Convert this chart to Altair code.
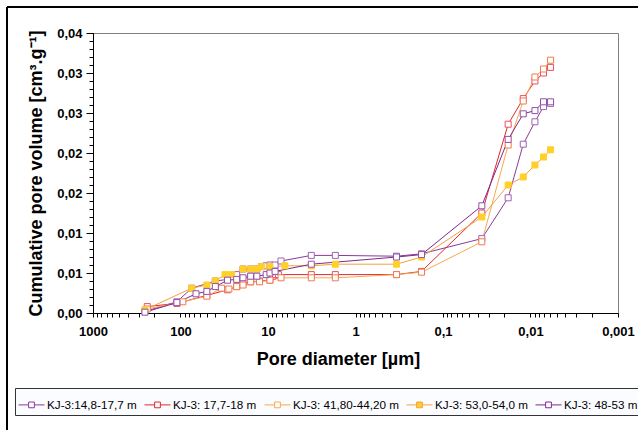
import altair as alt
import pandas as pd

# ---------------- data ----------------
series_names = [
    "KJ-3:14,8-17,7 m",
    "KJ-3: 17,7-18 m",
    "KJ-3: 41,80-44,20 m",
    "KJ-3: 53,0-54,0 m",
    "KJ-3: 48-53 m",
]
line_colors = ["#8B3A98", "#E3262E", "#F8A94E", "#F5A03C", "#7A2A8C"]
marker_strokes = ["#A062B4", "#EE4E5E", "#F27A4E", "#FFCF2A", "#9050AA"]
marker_fills = ["#FFFFFF", "#FFFFFF", "#FFFFFF", "#FFCF2A", "#FFFFFF"]

# pore diameter [um] and cumulative pore volume [cm3/g]
d_s1 = [255, 110, 74.5, 40, 29, 22.8, 19.3, 15.8, 13.4, 11.8, 10.5, 9.5, 8.3, 7.1, 3.2, 1.7, 0.34, 0.176, 0.036, 0.018, 0.0121, 0.0089, 0.0071, 0.0059]
v_s1 = [0.0002, 0.0014, 0.0031, 0.0040, 0.0042, 0.0048, 0.0055, 0.0055, 0.0055, 0.0058, 0.0059, 0.0060, 0.0060, 0.0065, 0.0072, 0.0072, 0.0071, 0.0074, 0.0093, 0.0144, 0.0211, 0.0239, 0.0258, 0.0262]

d_s2 = [240, 110, 50, 29, 22.8, 19.3, 15.8, 12.5, 9.5, 8.8, 8.2, 7.6, 3.2, 1.7, 0.34, 0.176, 0.036, 0.018, 0.0121, 0.0089, 0.0071, 0.0059]
v_s2 = [0.0008, 0.0012, 0.0022, 0.0029, 0.0033, 0.0037, 0.0039, 0.0040, 0.0041, 0.0046, 0.0048, 0.0048, 0.0048, 0.0048, 0.0048, 0.0052, 0.0125, 0.0236, 0.0268, 0.0290, 0.0300, 0.0307]

d_s3 = [240, 94, 50, 34, 28, 22.8, 19.3, 15.8, 12.5, 9.5, 7.1, 3.2, 1.7, 0.34, 0.176, 0.036, 0.018, 0.0121, 0.0089, 0.0071, 0.0059]
v_s3 = [0.0005, 0.0014, 0.0021, 0.0031, 0.0030, 0.0033, 0.0035, 0.0039, 0.0039, 0.0041, 0.0044, 0.0044, 0.0044, 0.0048, 0.0051, 0.0089, 0.0210, 0.0265, 0.0295, 0.0305, 0.0316]

d_s4 = [255, 74.5, 50, 40, 31, 26, 19.3, 15.8, 13.4, 11.8, 9.5, 6.4, 3.2, 1.7, 0.34, 0.176, 0.036, 0.018, 0.0121, 0.0089, 0.0071, 0.0059]
v_s4 = [0.0004, 0.0031, 0.0035, 0.0040, 0.0048, 0.0048, 0.0055, 0.0055, 0.0055, 0.0058, 0.0058, 0.0059, 0.0059, 0.0061, 0.0061, 0.0070, 0.0120, 0.0160, 0.0170, 0.0185, 0.0195, 0.0204]

d_s5 = [255, 110, 66.5, 50, 40, 29, 22.8, 19.3, 15.8, 13.4, 10.5, 9.5, 8.3, 3.2, 0.34, 0.176, 0.036, 0.018, 0.0121, 0.0089, 0.0071, 0.0059]
v_s5 = [0.0001, 0.0013, 0.0024, 0.0027, 0.0033, 0.0041, 0.0042, 0.0044, 0.0046, 0.0046, 0.0048, 0.0050, 0.0052, 0.0061, 0.0070, 0.0073, 0.0134, 0.0217, 0.0249, 0.0253, 0.0264, 0.0264]

x_tick_values = [k * 10.0 ** e for e in range(-3, 3) for k in range(1, 10)] + [1000.0]
y_major_values = [0.0, 0.005, 0.01, 0.015, 0.02, 0.025, 0.03, 0.035]
y_minor_values = [i / 1000 for i in range(0, 36)]

# ---------------- table ----------------
rows = []
for name, ds, vs in zip(series_names, [d_s1, d_s2, d_s3, d_s4, d_s5], [v_s1, v_s2, v_s3, v_s4, v_s5]):
    for i, (d, v) in enumerate(zip(ds, vs)):
        rows.append({"series": name, "diameter": d, "volume": v, "order": i})
df = pd.DataFrame(rows)

FONT = "Liberation Sans"
decade_test = "abs(log(datum.value)/LN10 - round(log(datum.value)/LN10)) < 0.001"

x_enc = alt.X(
    "diameter:Q",
    scale=alt.Scale(type="log", domain=[0.001, 1000], reverse=True),
    axis=alt.Axis(
        title="Pore diameter [µm]",
        values=x_tick_values,
        labelExpr=f"{decade_test} ? replace(format(datum.value, '~g'), '.', ',') : ''",
        labelOverlap=False,
        labelFlush=False,
        tickSize=4,
        labelPadding=8,
        labelFont=FONT,
        labelFontSize=13,
        labelFontWeight="bold",
        labelColor="#000",
        titleFont=FONT,
        titleFontSize=18,
        titleFontWeight="bold",
        titleColor="#000",
        titleX=245,
        titleY=46,
        titleBaseline="middle",
        titleAlign="center",
        grid=False,
        domainColor="#000",
        tickColor="#000",
    ),
)

y_major = alt.Y(
    "volume:Q",
    scale=alt.Scale(domain=[0, 0.035], nice=False, zero=True),
    axis=alt.Axis(
        orient="left",
        title="Cumulative pore volume [cm³.g⁻¹]",
        values=y_major_values,
        labelExpr="replace(format(datum.value + 0.0000001, '.2f'), '.', ',')",
        labelOverlap=False,
        labelFlush=False,
        tickSize=7,
        labelPadding=4,
        labelFont=FONT,
        labelFontSize=13,
        labelFontWeight="bold",
        labelColor="#000",
        titleFont=FONT,
        titleFontSize=18,
        titleFontWeight="bold",
        titleColor="#000",
        titleX=-57,
        titleY=140,
        titleBaseline="middle",
        titleAlign="center",
        grid=False,
        domainColor="#000",
        tickColor="#000",
    ),
)

y_minor = alt.Y(
    "volume:Q",
    axis=alt.Axis(
        orient="left",
        title=None,
        values=y_minor_values,
        labels=False,
        tickSize=4,
        grid=False,
        domainColor="#000",
        tickColor="#000",
    ),
)

legend = alt.Legend(
    title=None,
    orient="none",
    legendX=-78,
    legendY=355,
    direction="horizontal",
    columns=5,
    symbolType="M-1,0H-0.22M0.22,0H1M-0.22,-0.22H0.22V0.22H-0.22Z",
    symbolSize=676,
    symbolStrokeWidth=1,
    symbolFillColor="#FFFFFF",
    labelFont=FONT,
    labelFontSize=11.7,
    labelColor="#000",
    labelOffset=2,
    columnPadding=5,
    padding=3,
    strokeColor="#333333",
    fillColor="#FBFCFF",
    labelLimit=200,
)

lines = alt.Chart(df).mark_line(strokeWidth=1).encode(
    x=x_enc,
    y=y_major,
    color=alt.Color("series:N", scale=alt.Scale(domain=series_names, range=line_colors), legend=legend),
    order="order:Q",
)

points = alt.Chart(df).mark_point(shape="square", size=36, strokeWidth=1, filled=True, opacity=1).encode(
    x=alt.X("diameter:Q"),
    y=y_minor,
    stroke=alt.Stroke("series:N", scale=alt.Scale(domain=series_names, range=marker_strokes), legend=None),
    fill=alt.Fill("series:N", scale=alt.Scale(domain=series_names, range=marker_fills), legend=None),
)

# decorative outer chart-area frame (left and top edges)
frame_left = alt.Chart(df).mark_rule(color="#000", strokeWidth=1).encode(
    x=alt.value(-86), y=alt.value(-26), y2=alt.value(397)
)
frame_top = alt.Chart(df).mark_rule(color="#000", strokeWidth=1).encode(
    x=alt.value(-86), x2=alt.value(545), y=alt.value(-26)
)

chart = (
    alt.layer(lines, points, frame_left, frame_top)
    .resolve_axis(y="independent")
    .properties(
        width=525,
        height=280,
        autosize=alt.AutoSizeParams(type="none"),
        padding={"left": 93, "top": 33, "right": 20, "bottom": 117},
        background="#FFFFFF",
    )
    .configure_view(stroke="#808080", strokeWidth=1, clip=False)
)

chart.save("out.html", embed_options={"renderer": "svg", "actions": False})
